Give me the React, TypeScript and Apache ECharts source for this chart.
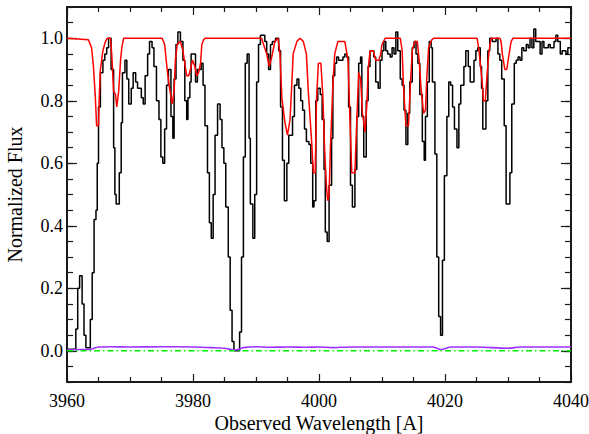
import React, { useEffect, useRef } from "react";
import * as echarts from "echarts";

// Observed spectrum (bin start wavelength, normalized flux) — histogram style
const blackWave = [
  3960.0, 3961.4, 3961.7, 3962.0, 3962.4, 3962.7, 3963.0, 3963.7, 3964.0, 3964.3,
  3964.6, 3964.8, 3965.0, 3965.3, 3965.7, 3966.0, 3966.3, 3966.6, 3967.0, 3967.4,
  3967.6, 3967.8, 3968.3, 3968.6, 3968.8, 3969.2, 3969.5, 3969.8, 3970.2, 3970.5,
  3970.9, 3971.2, 3971.8, 3972.1, 3972.4, 3972.8, 3973.1, 3973.5, 3973.8, 3974.2,
  3974.6, 3974.9, 3975.2, 3975.5, 3975.8, 3976.1, 3976.5, 3976.8, 3977.0, 3977.3,
  3977.6, 3978.0, 3978.4, 3978.7, 3979.0, 3979.2, 3979.5, 3979.7, 3980.4, 3980.7,
  3981.3, 3981.6, 3981.9, 3982.3, 3982.6, 3982.9, 3983.2, 3983.5, 3983.9, 3984.3,
  3984.6, 3984.9, 3985.2, 3985.6, 3985.9, 3986.2, 3986.5, 3987.4, 3987.7, 3988.0,
  3988.3, 3988.6, 3988.9, 3989.1, 3989.5, 3989.8, 3990.1, 3990.4, 3990.7, 3991.4,
  3991.7, 3992.0, 3992.3, 3992.6, 3993.1, 3993.6, 3993.9, 3994.2, 3994.5, 3994.9,
  3995.2, 3995.8, 3996.1, 3996.5, 3996.8, 3997.1, 3997.4, 3997.7, 3998.0, 3998.4,
  3998.7, 3999.0, 3999.2, 3999.5, 3999.8, 4000.2, 4000.5, 4000.8, 4001.0, 4001.3,
  4001.6, 4002.0, 4002.2, 4002.5, 4002.8, 4003.1, 4003.8, 4004.1, 4004.4, 4004.7,
  4005.0, 4005.3, 4005.7, 4006.0, 4006.3, 4006.6, 4006.8, 4007.1, 4007.5, 4007.8,
  4008.1, 4008.7, 4009.0, 4009.4, 4009.7, 4010.0, 4010.3, 4010.6, 4010.9, 4011.3,
  4011.6, 4011.9, 4012.2, 4012.5, 4012.9, 4013.2, 4013.5, 4013.8, 4014.1, 4014.4,
  4014.8, 4015.1, 4015.4, 4015.7, 4016.0, 4016.4, 4016.7, 4016.9, 4017.2, 4017.5,
  4017.8, 4018.0, 4018.4, 4018.7, 4019.0, 4019.3, 4019.6, 4019.9, 4020.3, 4020.6,
  4020.9, 4021.2, 4021.5, 4021.9, 4022.2, 4022.5, 4023.0, 4023.3, 4023.7, 4024.0,
  4024.6, 4024.9, 4025.2, 4025.6, 4025.8, 4026.0, 4026.5, 4026.8, 4027.1, 4027.5,
  4028.1, 4028.4, 4028.7, 4029.0, 4029.4, 4029.7, 4030.3, 4030.6, 4031.0, 4031.3,
  4031.6, 4031.9, 4032.2, 4032.5, 4032.9, 4033.2, 4033.5, 4033.8, 4034.1, 4034.4,
  4035.1, 4035.4, 4035.7, 4036.4, 4036.7, 4037.3, 4037.6, 4037.9, 4038.3, 4038.6,
  4039.2, 4039.5, 4040.0,
];
const blackFlux = [
  0.005, 0.07, 0.2, 0.24, 0.15, 0.05, 0.01, 0.1, 0.25, 0.42,
  0.45, 0.6, 0.78, 0.89, 0.93, 0.95, 0.97, 1.0, 0.9, 0.65,
  0.5, 0.47, 0.57, 0.73, 0.89, 0.93, 0.87, 0.79, 0.84, 0.89,
  0.86, 0.84, 0.81, 0.79, 0.88, 0.95, 0.99, 0.97, 0.91, 0.8,
  0.74, 0.62, 0.6, 0.71, 0.85, 0.9, 0.75, 0.68, 0.87, 0.98,
  1.02, 0.99, 0.93, 0.8, 0.74, 0.81, 0.86, 0.95, 0.86, 0.9,
  0.92, 0.85, 0.72, 0.57, 0.41, 0.36, 0.5, 0.69, 0.79, 0.74,
  0.65, 0.6, 0.46, 0.3, 0.13, 0.03, 0.0, 0.06, 0.3, 0.62,
  0.92, 0.95, 0.68, 0.47, 0.36, 0.5, 0.86, 0.98, 1.01, 0.99,
  0.95, 0.9, 0.98, 0.99, 1.0, 0.96, 0.78, 0.61, 0.48, 0.6,
  0.69, 0.75, 0.85, 0.87, 0.84, 0.8, 0.77, 0.71, 0.67, 0.66,
  0.6, 0.46, 0.48, 0.8, 0.84, 0.82, 0.74, 0.58, 0.38, 0.35,
  0.53, 0.68, 0.88, 0.92, 0.94, 0.93, 0.94, 0.95, 0.94, 0.78,
  0.53, 0.46, 0.58, 0.75, 0.92, 0.94, 0.75, 0.62, 0.8, 0.91,
  0.96, 0.94, 0.86, 0.84, 0.93, 0.96, 0.99, 0.96, 0.95, 0.94,
  0.97, 0.95, 1.02, 0.96, 0.87, 0.85, 0.77, 0.66, 0.76, 0.86,
  0.97, 0.99, 0.95, 0.92, 0.82, 0.67, 0.61, 0.75, 0.86, 0.99,
  0.97, 0.86, 0.63, 0.3, 0.11, 0.05, 0.29, 0.56, 0.75, 0.86,
  0.85, 0.78, 0.71, 0.65, 0.79, 0.85, 0.91, 0.96, 0.91, 0.86,
  0.93, 0.96, 0.97, 0.91, 0.84, 0.71, 0.8, 0.96, 1.0, 0.99,
  1.0, 0.95, 0.93, 0.87, 0.72, 0.47, 0.57, 0.79, 0.92, 0.93,
  0.94, 0.93, 0.97, 0.96, 0.98, 0.97, 1.0, 0.97, 1.03, 0.99,
  0.95, 0.99, 0.97, 0.98, 0.97, 0.99, 1.01, 0.99, 0.95, 0.96,
  0.95, 0.97, 0.97,
];

// Model fit (red)
const modelWave = [
  3960.0, 3963.4, 3963.9, 3964.2, 3964.5, 3964.7, 3965.0, 3965.1, 3965.3, 3965.7,
  3966.1, 3966.4, 3966.9, 3967.1, 3967.4, 3967.7, 3967.9, 3968.2, 3968.5, 3968.7,
  3969.0, 3975.1, 3975.5, 3975.9, 3976.2, 3976.7, 3977.0, 3977.2, 3977.5, 3978.0,
  3978.4, 3978.7, 3979.0, 3979.3, 3979.6, 3979.9, 3980.3, 3980.6, 3980.9, 3981.2,
  3981.4, 3981.7, 3981.9, 3990.9, 3991.2, 3991.7, 3992.1, 3992.5, 3993.0, 3993.5,
  3993.8, 3994.1, 3994.6, 3995.0, 3995.4, 3995.7, 3995.9, 3996.5, 3997.0, 3997.5,
  3998.0, 3998.3, 3998.8, 3999.1, 3999.4, 3999.6, 3999.9, 4000.3, 4000.6, 4000.9,
  4001.2, 4001.4, 4001.6, 4001.8, 4002.2, 4002.5, 4003.0, 4004.1, 4004.6, 4005.0,
  4005.2, 4005.7, 4006.0, 4006.3, 4006.6, 4006.9, 4007.3, 4007.6, 4007.8, 4008.1,
  4008.6, 4009.0, 4009.5, 4009.8, 4010.0, 4010.5, 4012.9, 4013.2, 4013.4, 4013.8,
  4014.2, 4014.5, 4014.8, 4015.2, 4015.6, 4015.9, 4016.2, 4016.6, 4016.9, 4017.1,
  4017.4, 4017.9, 4018.2, 4025.1, 4025.4, 4025.6, 4025.9, 4026.1, 4026.4, 4026.7,
  4027.0, 4027.3, 4028.7, 4028.9, 4029.1, 4029.5, 4029.8, 4030.1, 4030.5, 4030.8,
  4040.0,
];
const modelFlux = [
  1.0, 0.995, 0.97, 0.91, 0.81, 0.72, 0.72, 0.8, 0.9, 0.96,
  0.99, 1.0, 1.0, 0.95, 0.83, 0.82, 0.78, 0.83, 0.93, 0.97,
  1.0, 1.0, 0.98, 0.9, 0.85, 0.79, 0.83, 0.93, 0.98, 0.99,
  0.96, 0.92, 0.88, 0.88, 0.9, 0.93, 0.91, 0.88, 0.89, 0.92,
  0.98, 0.995, 1.0, 1.0, 0.98, 0.95, 0.91, 0.94, 0.99, 1.0,
  0.95, 0.81, 0.73, 0.69, 0.74, 0.86, 0.95, 0.99, 1.0, 0.99,
  0.95, 0.83, 0.68, 0.57, 0.57, 0.8, 0.92, 0.92, 0.82, 0.64,
  0.52, 0.48, 0.5, 0.64, 0.85, 0.95, 0.99, 0.99, 0.93, 0.69,
  0.57, 0.57, 0.74, 0.89, 0.87, 0.76, 0.7, 0.79, 0.9, 0.96,
  0.96, 0.93, 0.93, 0.95, 0.98, 1.0, 1.0, 0.96, 0.85, 0.72,
  0.72, 0.85, 0.96, 0.99, 0.99, 0.93, 0.84, 0.76, 0.77, 0.87,
  0.97, 0.995, 1.0, 1.0, 0.96, 0.92, 0.86, 0.8, 0.8, 0.89,
  0.96, 1.0, 1.0, 0.99, 0.95, 0.9, 0.9, 0.94, 0.99, 1.0,
  1.0,
];

// Error spectrum (purple)
const errorWave = [
  3960, 3962, 3963.5, 3965, 3967, 3970, 3975, 3980, 3983, 3985,
  3986.7, 3988, 3990, 3992, 3995, 3998, 4000, 4002, 4005, 4008,
  4010, 4015, 4018, 4019.4, 4021, 4025, 4030, 4032, 4040,
];
const errorFlux = [
  0.003, 0.004, 0.004, 0.012, 0.013, 0.012, 0.013, 0.012, 0.01, 0.008,
  0.002, 0.01, 0.013, 0.011, 0.012, 0.011, 0.012, 0.01, 0.012, 0.012,
  0.012, 0.012, 0.012, 0.004, 0.012, 0.012, 0.008, 0.012, 0.012,
];

// Zero reference line (green dash-dot)
const zeroWave = [3960, 4040];
const zeroFlux = [0, 0];

const xTicks = [3960, 3980, 4000, 4020, 4040];
const yMajorTicks = [0.0, 0.2, 0.4, 0.6, 0.8, 1.0];

const zip = (a: number[], b: number[]) => a.map((v, i) => [v, b[i]]);

const FONT = "Liberation Serif, Times New Roman, serif";

export default function App() {
  const ref = useRef<HTMLDivElement>(null);
  useEffect(() => {
    document.body.style.margin = "0";
    if (!ref.current) return;
    const chart = echarts.init(ref.current, null, { renderer: "svg" });
    const axisColor = "#1a1a1a";
    const richLabel = {
      t: { fontFamily: FONT, fontSize: 18, color: "#000", fontWeight: "normal" },
    };
    const xBase = {
      type: "value",
      min: xTicks[0],
      max: xTicks[xTicks.length - 1],
      interval: 20,
      splitLine: { show: false },
      axisLine: { show: true, onZero: false, lineStyle: { color: axisColor, width: 2 } },
      axisTick: { show: true, inside: true, length: 8, lineStyle: { color: axisColor, width: 1.2 } },
      minorTick: { show: true, splitNumber: 4, length: 5, lineStyle: { color: axisColor, width: 1.2 } },
    };
    const yBase = {
      type: "value",
      min: -0.1,
      max: 1.1,
      splitLine: { show: false },
    };
    const option = {
      animation: false,
      backgroundColor: "#fff",
      textStyle: { fontFamily: FONT },
      grid: { left: 67, right: 18, top: 7, bottom: 52, containLabel: false, outerBoundsMode: "none" },
      xAxis: [
        {
          ...xBase,
          position: "bottom",
          name: "Observed Wavelength [A]",
          nameLocation: "middle",
          nameGap: 31,
          nameMoveOverlap: false,
          nameTextStyle: { fontFamily: FONT, fontSize: 20, color: "#000" },
          axisLabel: {
            show: true,
            margin: 10,
            fontFamily: FONT,
            fontSize: 18,
            color: "#000",
            hideOverlap: false,
            rich: richLabel,
            formatter: (v: number) => "{t|" + String(Math.round(v)) + "}",
          },
        },
        {
          ...xBase,
          position: "top",
          axisLabel: { show: false },
        },
      ],
      yAxis: [
        {
          ...yBase,
          position: "left",
          interval: 0.05,
          name: "Normalized Flux",
          nameLocation: "middle",
          nameGap: 42,
          nameMoveOverlap: false,
          nameTextStyle: { fontFamily: FONT, fontSize: 20, color: "#000" },
          axisLine: { show: true, onZero: false, lineStyle: { color: axisColor, width: 2 } },
          axisTick: { show: true, inside: true, length: 6, lineStyle: { color: axisColor, width: 1.2 } },
          axisLabel: {
            show: true,
            margin: 4,
            fontFamily: FONT,
            fontSize: 18,
            color: "#000",
            rich: richLabel,
            customValues: yMajorTicks,
            formatter: (v: number) => "{t|" + (Math.abs(v) < 1e-9 ? "0.0" : v.toFixed(1)) + "}",
          },
        },
        {
          ...yBase,
          position: "left",
          axisLine: { show: false, onZero: false },
          axisTick: { show: true, inside: true, length: 10, customValues: yMajorTicks, lineStyle: { color: axisColor, width: 1.2 } },
          axisLabel: { show: false },
        },
        {
          ...yBase,
          position: "right",
          interval: 0.05,
          axisLine: { show: true, onZero: false, lineStyle: { color: axisColor, width: 2 } },
          axisTick: { show: true, inside: true, length: 6, lineStyle: { color: axisColor, width: 1.2 } },
          axisLabel: { show: false },
        },
        {
          ...yBase,
          position: "right",
          axisLine: { show: false, onZero: false },
          axisTick: { show: true, inside: true, length: 10, customValues: yMajorTicks, lineStyle: { color: axisColor, width: 1.2 } },
          axisLabel: { show: false },
        },
      ],
      series: [
        {
          name: "flux",
          type: "line",
          step: "end",
          data: zip(blackWave, blackFlux),
          symbol: "none",
          lineStyle: { color: "#000", width: 1.5 },
          z: 2,
        },
        {
          name: "model",
          type: "line",
          data: zip(modelWave, modelFlux),
          symbol: "none",
          lineStyle: { color: "#ff0000", width: 1.5 },
          z: 3,
        },
        {
          name: "error",
          type: "line",
          data: zip(errorWave, errorFlux),
          symbol: "none",
          smooth: 0.3,
          lineStyle: { color: "#9b30ff", width: 1.6 },
          z: 4,
        },
        {
          name: "zero",
          type: "line",
          data: zip(zeroWave, zeroFlux),
          symbol: "none",
          lineStyle: { color: "#00ee00", width: 1.5, type: [6, 3, 1.5, 3] },
          z: 5,
        },
      ],
    };
    chart.setOption(option as any);
    return () => chart.dispose();
  }, []);
  return <div ref={ref} style={{ width: 589, height: 434 }} />;
}
